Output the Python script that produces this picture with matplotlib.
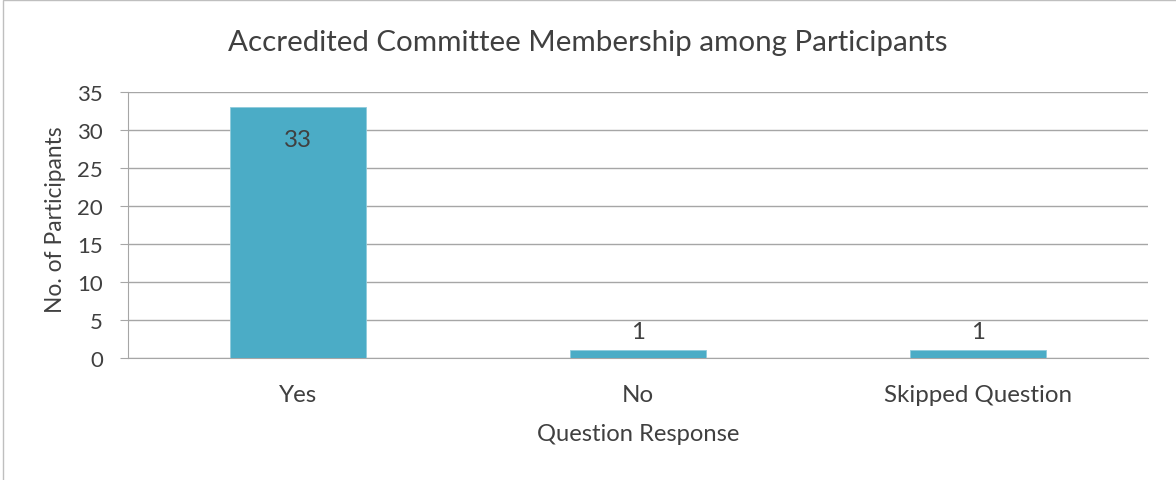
import matplotlib
matplotlib.use('Agg')
import matplotlib.pyplot as plt
from matplotlib.patches import Rectangle

categories = ["Yes", "No", "Skipped Question"]
counts = [33, 1, 1]
y_ticks = [0, 5, 10, 15, 20, 25, 30, 35]

title = "Accredited Committee Membership among Participants"
x_title = "Question Response"
y_title = "No. of Participants"

text_color = "#404040"
grid_color = "#A6A6A6"
bar_color = "#4BACC6"

plt.rcParams['font.family'] = ['Lato', 'DejaVu Sans']

W, H = 1176, 481
fig = plt.figure(figsize=(W / 100, H / 100), dpi=100)
renderer = fig.canvas.get_renderer()


def fit_size(s, target_px, start=16):
    # font size that makes text s about target_px wide
    t = fig.text(0, 0, s, fontsize=start)
    w = t.get_window_extent(renderer).width
    t.remove()
    return start * target_px / w


tick_fs = fit_size("Skipped Question", 189)
title_fs = fit_size(title, 721)
xlab_fs = fit_size(x_title, 203)
ylab_fs = fit_size(y_title, 187)

# plot area in pixels: x 128..1148, y 93..359
ax = fig.add_axes([128 / W, 1 - 359 / H, (1148 - 128) / W, (359 - 93) / H])

x = list(range(len(categories)))
ax.bar(x, counts, width=0.4, color=bar_color, edgecolor="#8FCBDB",
       linewidth=0.6, zorder=3)

ax.set_xlim(-0.5, len(categories) - 0.5)
ax.set_ylim(0, 35)
ax.set_yticks(y_ticks)
ax.set_xticks(x)
ax.set_xticklabels(categories)

ax.grid(axis="y", color=grid_color, linewidth=1, zorder=0)
for side in ["top", "right"]:
    ax.spines[side].set_visible(False)
ax.spines["left"].set_color(grid_color)
ax.spines["bottom"].set_color(grid_color)
ax.tick_params(axis="y", length=6, color=grid_color, labelsize=tick_fs * 0.92,
               labelcolor=text_color, pad=12)
# baseline of category labels about 43 px under the axis
ax.tick_params(axis="x", length=0, labelsize=tick_fs, labelcolor=text_color, pad=43 * 0.72)
for lab in ax.get_xticklabels():
    lab.set_va("baseline")

# data labels: inside the tall bar, above the short ones
px = 35 / 266.0
for xi, v in zip(x, counts):
    if v > 5:
        ax.text(xi, v - 39 * px, str(v), ha="center", va="baseline",
                fontsize=tick_fs, color=text_color, zorder=4)
    else:
        ax.text(xi, v + 12 * px, str(v), ha="center", va="baseline",
                fontsize=tick_fs, color=text_color, zorder=4)

ax.set_xlabel(x_title, fontsize=xlab_fs, color=text_color, va="baseline")
ax.xaxis.set_label_coords(0.5, (359 - 441) / 266)
ax.set_ylabel(y_title, fontsize=ylab_fs, color=text_color)
ax.yaxis.set_label_coords((66 - 128) / 1020, (359 - 220) / 266)

fig.text(588 / W, 1 - 51 / H, title, ha="center", va="baseline",
         fontsize=title_fs, color=text_color)

# chart frame (only left and top edges show in the crop)
fig.add_artist(Rectangle((3 / W, -0.1), 1.2, 1.1 - 0.5 / H, transform=fig.transFigure,
                         fill=False, edgecolor="#BFBFBF", linewidth=1))

fig.savefig("out.png", dpi=100, facecolor="white")
